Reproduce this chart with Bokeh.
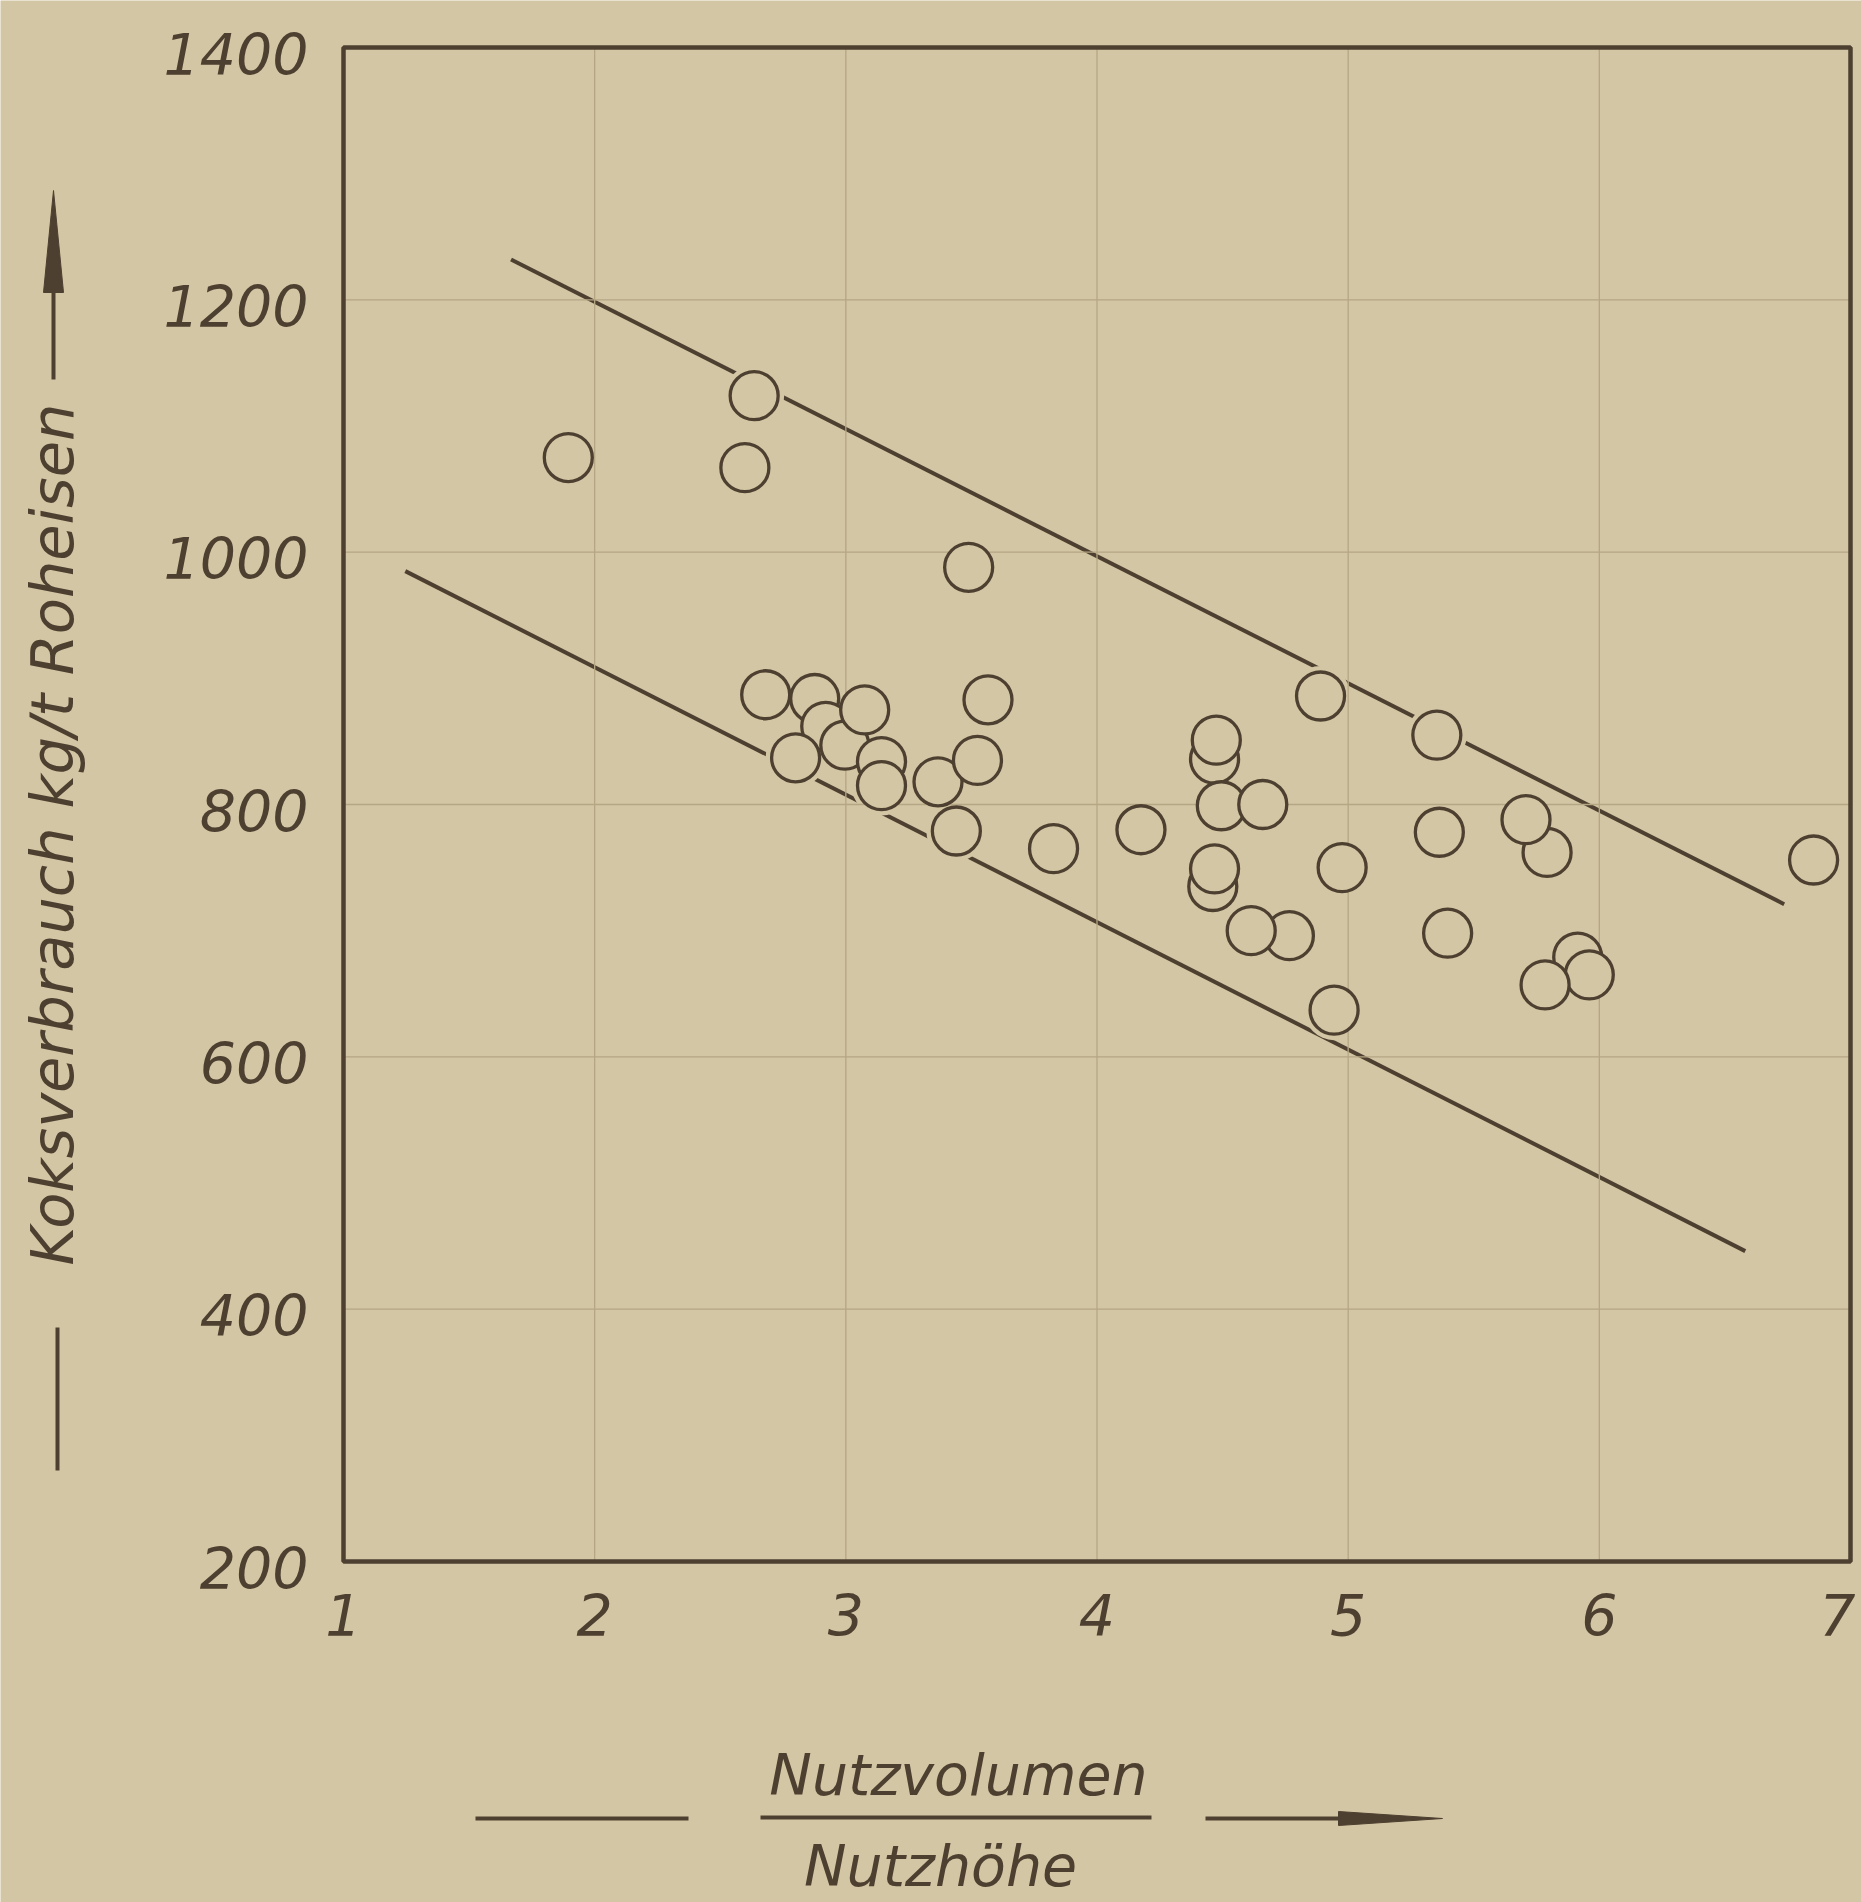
import math
from bokeh.plotting import figure
from bokeh.models import Range1d
from bokeh.core.properties import value
from bokeh.embed import file_html
from bokeh.resources import INLINE

# ---------------- data ----------------
# listed in drawing order (circles that lie behind others come first)
ratio = [1.895, 2.635, 2.598, 3.489, 2.681, 2.876, 2.920, 2.996, 3.075, 2.800,
         3.142, 3.142, 3.367, 3.524, 3.440, 3.566, 3.827, 4.175, 4.468, 4.475,
         4.495, 4.660, 4.461, 4.468, 4.766, 4.614, 4.976, 4.890, 4.944, 5.792,
         5.708, 5.353, 5.363, 5.396, 5.914, 5.960, 5.784, 6.853]
coke = [1075, 1124, 1067, 988, 887, 884, 862, 847, 875, 837,
        834, 815, 818, 835, 779, 883, 765, 780, 836, 851,
        799, 800, 735, 749, 696, 700, 750, 886, 637, 762,
        788, 855, 778, 698, 679, 665, 657, 756]

upper_x = [1.667, 6.736]
upper_y = [1232, 721]
lower_x = [1.246, 6.581]
lower_y = [985, 446]

x_ticks = [1, 2, 3, 4, 5, 6, 7]
y_ticks = [200, 400, 600, 800, 1000, 1200, 1400]
x_tick_labels = ["1", "2", "3", "4", "5", "6", "7"]
y_tick_labels = ["200", "400", "600", "800", "1000", "1200", "1400"]
x_grid = [2, 3, 4, 5, 6]
y_grid = [400, 600, 800, 1000, 1200]

y_title = "Koksverbrauch kg/t Roheisen"
x_title_top = "Nutzvolumen"
x_title_bottom = "Nutzhöhe"

# ---------------- style / layout ----------------
INK = "#4e4030"
PAPER = "#d3c6a4"
GRID = "#b5a684"
FONT = "DejaVu Sans"

W, H = 1861, 1902
FL, FR, FT, FB = 343, 1850, 47, 1561          # plot box in canvas pixels
X0, X1 = x_ticks[0], x_ticks[-1]
Y0, Y1 = y_ticks[0], y_ticks[-1]
XPX = (FR - FL) / (X1 - X0)
YPX = (FB - FT) / (Y1 - Y0)
SHIFT = 23   # baseline correction of the svg text, pixels

x_range = Range1d(X0 - FL / XPX, X1 + (W - FR) / XPX)
y_range = Range1d(Y0 - (H - FB) / YPX, Y1 + FT / YPX)

p = figure(width=W, height=H, x_range=x_range, y_range=y_range,
           output_backend="svg", toolbar_location=None, title=None,
           x_axis_location=None, y_axis_location=None,
           min_border=0, min_border_left=0, min_border_right=0,
           min_border_top=0, min_border_bottom=0)
p.background_fill_color = PAPER
p.border_fill_color = PAPER
p.outline_line_color = None
p.grid.visible = False


def px_x(X):
    return X0 + (X - FL) / XPX


def px_y(Y):
    return Y1 - (Y - FT) / YPX


# band lines
p.line(upper_x, upper_y, line_color=INK, line_width=4)
p.line(lower_x, lower_y, line_color=INK, line_width=4)

# halos: the band lines are interrupted around the circles
p.scatter(ratio, coke, size=60, marker="circle", fill_color=PAPER, line_color=None)

# grid
p.segment(x0=x_grid, y0=[Y0] * len(x_grid), x1=x_grid, y1=[Y1] * len(x_grid),
          line_color=GRID, line_width=1.3)
p.segment(x0=[X0] * len(y_grid), y0=y_grid, x1=[X1] * len(y_grid), y1=y_grid,
          line_color=GRID, line_width=1.3)

# data circles
p.scatter(ratio, coke, size=48, marker="circle", fill_color=PAPER,
          line_color=INK, line_width=3.3)

# plot box
p.quad(left=[X0], right=[X1], bottom=[Y0], top=[Y1], fill_color=None,
       line_color=INK, line_width=4.5)

TXT = dict(text_font=value(FONT), text_font_style="italic", text_color=INK)

# tick labels
p.text(x=[px_x(FL - 35)] * len(y_ticks), y=[t - (29 - SHIFT) / YPX for t in y_ticks],
       text=y_tick_labels, text_align="right", text_baseline="alphabetic",
       text_font_size="57px", **TXT)
x_label_pos = x_ticks[:-1] + [min(x_ticks[-1], px_x(W - 24))]
p.text(x=x_label_pos, y=[Y0 - (76 - SHIFT) / YPX] * len(x_ticks), text=x_tick_labels,
       text_align="center", text_baseline="alphabetic", text_font_size="57px", **TXT)

# y title with line and arrow
p.text(x=[px_x(75 - SHIFT)], y=[px_y(834)], text=[y_title], angle=math.pi / 2,
       text_align="center", text_baseline="alphabetic", text_font_size="59px", **TXT)
p.segment(x0=[px_x(57), px_x(53)], y0=[px_y(1327), px_y(379)],
          x1=[px_x(57), px_x(53)], y1=[px_y(1470), px_y(285)],
          line_color=INK, line_width=4)
p.patch([px_x(53), px_x(43), px_x(63)], [px_y(190), px_y(292), px_y(292)],
        fill_color=INK, line_color=INK, line_width=1)

# x title: fraction with line and arrow
p.text(x=[px_x(958)], y=[px_y(1797 - SHIFT)], text=[x_title_top], text_align="center",
       text_baseline="alphabetic", text_font_size="57px", **TXT)
p.text(x=[px_x(940)], y=[px_y(1888 - SHIFT)], text=[x_title_bottom], text_align="center",
       text_baseline="alphabetic", text_font_size="57px", **TXT)
p.segment(x0=[px_x(760), px_x(475), px_x(1205)], y0=[px_y(1817), px_y(1818), px_y(1818)],
          x1=[px_x(1151), px_x(688), px_x(1345)], y1=[px_y(1817), px_y(1818), px_y(1818)],
          line_color=INK, line_width=4)
p.patch([px_x(1442), px_x(1338), px_x(1338)], [px_y(1818), px_y(1811), px_y(1825)],
        fill_color=INK, line_color=INK, line_width=1)

open("out.html", "w").write(file_html(p, INLINE))
